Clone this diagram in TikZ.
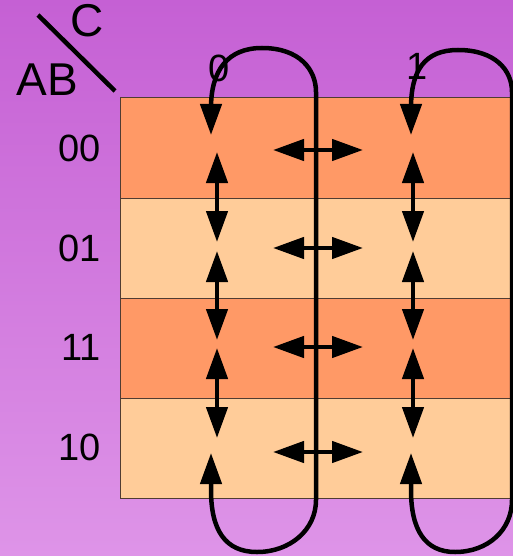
\documentclass[tikz,border=0pt]{standalone}
\usepackage{fontspec}
\setmainfont{Liberation Sans}
\usetikzlibrary{arrows.meta}

\definecolor{bgtop}{RGB}{197,96,212}
\definecolor{bgbot}{RGB}{222,148,232}
\definecolor{darkcell}{RGB}{255,153,102}
\definecolor{lightcell}{RGB}{255,204,153}
\definecolor{gridline}{RGB}{80,60,50}

\tikzset{
  cell/.style={draw=gridline, line width=1pt, minimum width=196pt, minimum height=100pt,
               inner sep=0pt, outer sep=0pt},
  lbl/.style={font=\fontsize{38}{40}\selectfont, inner sep=0pt},
  biglbl/.style={font=\fontsize{46}{48}\selectfont, inner sep=0pt},
  link/.style={line width=4.5pt, {Triangle[length=31pt,width=21pt]}-{Triangle[length=31pt,width=21pt]}},
}

\begin{document}
\begin{tikzpicture}[x=1pt, y=-1pt]
  \useasboundingbox (0,0) rectangle (513,556);
  \shade[top color=bgtop, bottom color=bgbot] (0,0) rectangle (513,556);

  % K-map cells: rows 00, 01, 11, 10; columns C=0 and C=1
  \node[cell, fill=darkcell]  (a0) at (218,148) {};
  \node[cell, fill=darkcell]  (a1) at (414,148) {};
  \node[cell, fill=lightcell] (b0) at (218,248) {};
  \node[cell, fill=lightcell] (b1) at (414,248) {};
  \node[cell, fill=darkcell]  (c0) at (218,348) {};
  \node[cell, fill=darkcell]  (c1) at (414,348) {};
  \node[cell, fill=lightcell] (d0) at (218,448) {};
  \node[cell, fill=lightcell] (d1) at (414,448) {};

  % corner header
  \draw[line width=4.5pt] (38,15) coordinate (diagA) -- (115,91) coordinate (diagB);
  \node[biglbl] (hc) at (87,21) {C};
  \node[biglbl] (hab) at (47,80) {AB};

  % row and column labels
  \node[lbl, anchor=east] (r00) at (101,148) {00};
  \node[lbl, anchor=east] (r01) at (101,248) {01};
  \node[lbl, anchor=east] (r11) at (101,347) {11};
  \node[lbl, anchor=east] (r10) at (101,447) {10};
  \node[lbl] (k0) at (219,68) {0};
  \node[lbl] (k1) at (417,66) {1};

  % wrap-around links: top row to bottom row, per column
  \coordinate (t0) at (211,135);
  \coordinate (u0) at (211,453);
  \draw[link] (t0) -- (211,108) .. controls (211,70) and (228,48) .. (262,48)
     .. controls (300,48) and (316,70) .. (316,92) -- (316,500)
     .. controls (316,530) and (290,552) .. (257,552)
     .. controls (225,552) and (211,530) .. (211,490) -- (u0);
  \coordinate (t1) at (411,135);
  \coordinate (u1) at (411,453);
  \draw[link] (t1) -- (411,108) .. controls (411,70) and (425,50) .. (458,50)
     .. controls (495,50) and (512,70) .. (512,92) -- (512,500)
     .. controls (512,530) and (488,552) .. (455,552)
     .. controls (425,552) and (411,530) .. (411,490) -- (u1);

  % adjacency between neighbouring rows
  \foreach \x in {217,413} {
    \coordinate (p1) at (\x,152); \coordinate (q1) at (\x,242);
    \coordinate (p2) at (\x,251); \coordinate (q2) at (\x,340);
    \coordinate (p3) at (\x,348); \coordinate (q3) at (\x,438);
    \draw[link] (p1) -- (q1);
    \draw[link] (p2) -- (q2);
    \draw[link] (p3) -- (q3);
  }

  % adjacency between the two columns
  \foreach \y in {150,248,347,452} {
    \coordinate (hl) at (273,\y); \coordinate (hr) at (363,\y);
    \draw[link] (hl) -- (hr);
  }
\end{tikzpicture}
\end{document}
